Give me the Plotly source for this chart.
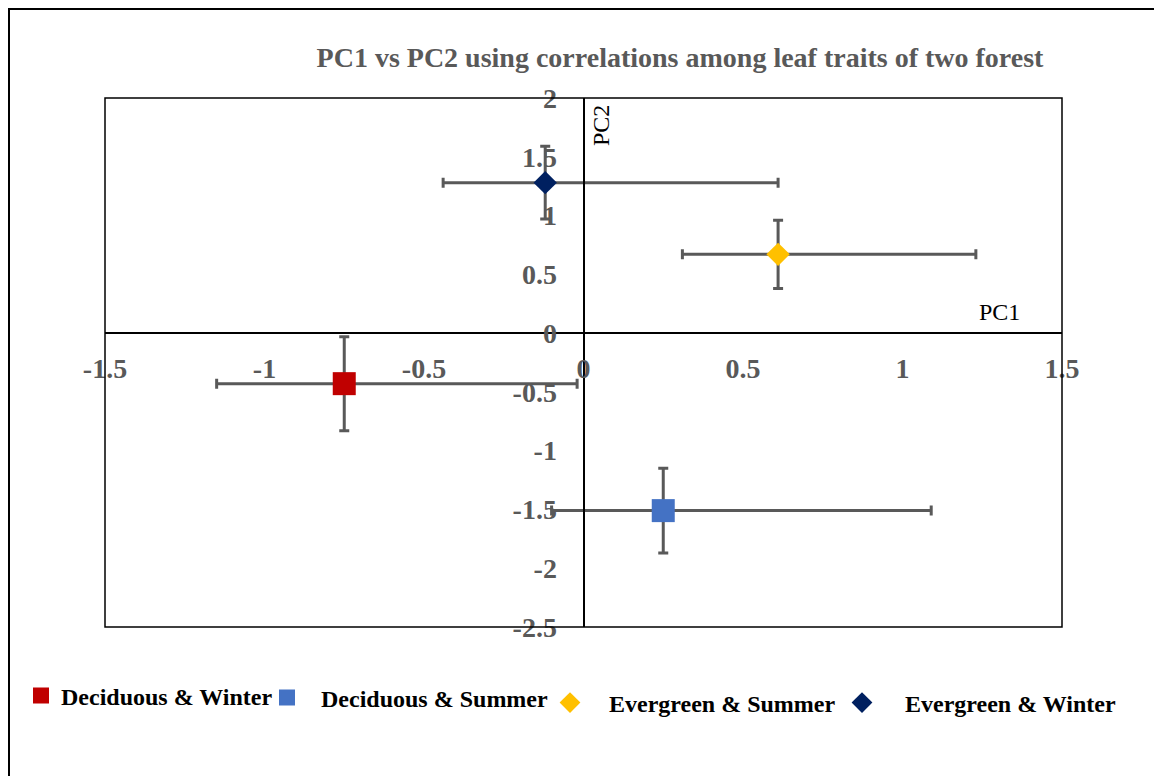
import plotly.graph_objects as go

# ---- data ----
groups = ["Deciduous & Winter", "Deciduous & Summer", "Evergreen & Summer", "Evergreen & Winter"]
pc1 = [-0.75, 0.25, 0.61, -0.12]
pc2 = [-0.43, -1.51, 0.67, 1.28]
pc1_err_plus = [0.73, 0.84, 0.62, 0.73]
pc1_err_minus = [0.40, 0.35, 0.30, 0.32]
pc2_err = [0.40, 0.36, 0.29, 0.31]

x_tick_vals = [-1.5, -1, -0.5, 0, 0.5, 1, 1.5]
x_tick_text = ["-1.5", "-1", "-0.5", "0", "0.5", "1", "1.5"]
y_tick_vals = [-2.5, -2, -1.5, -1, -0.5, 0, 0.5, 1, 1.5, 2]
y_tick_text = ["-2.5", "-2", "-1.5", "-1", "-0.5", "0", "0.5", "1", "1.5", "2"]

# ---- styles ----
colors = ["#C00000", "#4472C4", "#FFC000", "#002060"]
symbols = ["square", "square", "diamond", "diamond"]
sizes = [23, 23, 18, 18]
legend_ids = ["legend", "legend2", "legend3", "legend4"]

W, H = 1162, 776
OFF = 8  # page body margin
L, R, T, B = 97, 108, 90, 157
PW, PH = W - L - R, H - T - B


def px_x(px):
    return (px - OFF - L) / PW


def px_y(py):
    return (H - B - (py - OFF)) / PH


SERIF = "Liberation Serif"
GRAY = "#595959"

fig = go.Figure()
for i in range(len(groups)):
    fig.add_trace(go.Scatter(
        x=[pc1[i]], y=[pc2[i]], mode="markers", name=groups[i],
        marker=dict(color=colors[i], symbol=symbols[i], size=sizes[i], line=dict(width=0)),
        error_x=dict(type="data", symmetric=False, array=[pc1_err_plus[i]],
                     arrayminus=[pc1_err_minus[i]], color=GRAY, thickness=3, width=5),
        error_y=dict(type="data", array=[pc2_err[i]], color=GRAY, thickness=3, width=5),
        legend=legend_ids[i],
        cliponaxis=False,
    ))

tickfont = dict(family=SERIF, size=28, color=GRAY, weight="bold")

legend_text_x = [61, 321, 609, 905]
legend_y = [696, 698, 703, 703]
legend_itemwidth = [30, 58, 68, 76]
legends = {}
for i, lid in enumerate(legend_ids):
    extra = legend_itemwidth[i] - 30
    legends[lid] = dict(
        x=px_x(legend_text_x[i] - 40 - extra), y=px_y(legend_y[i]), xanchor="left", yanchor="middle",
        orientation="h", bgcolor="rgba(0,0,0,0)", borderwidth=0, itemwidth=legend_itemwidth[i],
        font=dict(family=SERIF, size=24, color="black", weight="bold"),
    )

fig.update_layout(
    width=W, height=H,
    margin=dict(l=L, r=R, t=T, b=B, autoexpand=False),
    paper_bgcolor="white", plot_bgcolor="white",
    showlegend=True,
    title=dict(text="PC1 vs PC2 using correlations among leaf traits of two forest",
               font=dict(family=SERIF, size=28, color=GRAY, weight="bold"),
               xref="container", x=(680 - OFF) / W, xanchor="center",
               yref="container", y=(H - (57 - OFF)) / H, yanchor="middle"),
    xaxis=dict(range=[-1.5, 1.5], tickvals=x_tick_vals, ticktext=x_tick_text,
               anchor="free", position=2.5 / 4.5, showline=True, linecolor="black", linewidth=2,
               showgrid=False, zeroline=False, ticks="", tickfont=tickfont, ticklabelstandoff=10),
    yaxis=dict(range=[-2.5, 2], tickvals=y_tick_vals, ticktext=y_tick_text,
               anchor="free", position=0.5, showline=True, linecolor="black", linewidth=2,
               showgrid=False, zeroline=False, ticks="", tickfont=tickfont, ticklabelstandoff=20),
    shapes=[
        dict(type="rect", xref="paper", yref="paper", x0=0, x1=1, y0=0, y1=1,
             line=dict(color="black", width=1.5), layer="above"),
        dict(type="line", xref="paper", yref="paper", x0=px_x(8), x1=px_x(W + OFF), y0=px_y(9), y1=px_y(9),
             line=dict(color="black", width=2)),
        dict(type="line", xref="paper", yref="paper", x0=px_x(9), x1=px_x(9), y0=px_y(8), y1=px_y(H + OFF),
             line=dict(color="black", width=2)),
    ],
    annotations=[
        dict(text="PC1", xref="paper", yref="paper", x=px_x(999), y=px_y(312), showarrow=False,
             font=dict(family=SERIF, size=24, color="black"), xanchor="center", yanchor="middle"),
        dict(text="PC2", xref="paper", yref="paper", x=px_x(601), y=px_y(126), showarrow=False,
             textangle=-90, font=dict(family=SERIF, size=24, color="black"),
             xanchor="center", yanchor="middle"),
    ],
    **legends,
)

fig.write_html("out.html")
